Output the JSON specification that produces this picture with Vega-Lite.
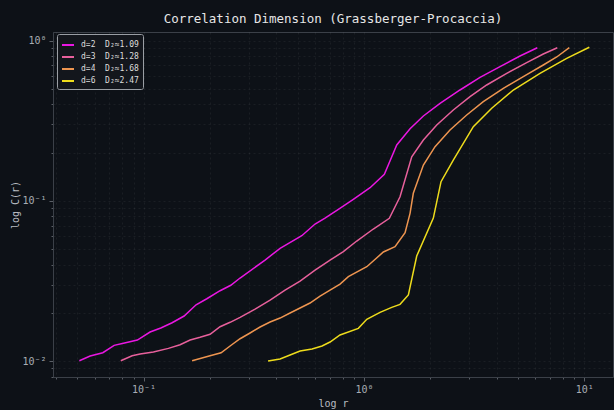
{
  "$schema": "https://vega.github.io/schema/vega-lite/v6.json",
  "width": 560,
  "height": 345,
  "autosize": {"type": "none"},
  "padding": {"left": 53, "top": 32, "right": 1, "bottom": 33},
  "background": "#0d1117",
  "title": {
    "text": "Correlation Dimension (Grassberger-Procaccia)",
    "font": "DejaVu Sans Mono",
    "fontSize": 12.5,
    "fontWeight": "normal",
    "color": "#e6e6e6",
    "anchor": "middle",
    "offset": 7
  },
  "config": {
    "view": {"stroke": "#3b4048", "strokeWidth": 1, "fill": "#0d1117"},
    "font": "DejaVu Sans Mono",
    "axis": {
      "labelFont": "DejaVu Sans Mono",
      "titleFont": "DejaVu Sans Mono",
      "labelColor": "#a8adb4",
      "titleColor": "#b8bcc2",
      "labelFontSize": 10,
      "titleFontSize": 10,
      "titleFontWeight": "normal",
      "domainColor": "#3b4048",
      "tickColor": "#5a5f66",
      "gridColor": "#ffffff",
      "gridOpacity": 0.07,
      "gridDash": [2, 3],
      "gridWidth": 0.8
    }
  },
  "data": {
    "values": [
      {"series": "d=2\u00a0 D₂≈1.09", "r": 0.0511, "C": 0.01005},
      {"series": "d=2\u00a0 D₂≈1.09", "r": 0.0572, "C": 0.01074},
      {"series": "d=2\u00a0 D₂≈1.09", "r": 0.0653, "C": 0.01127},
      {"series": "d=2\u00a0 D₂≈1.09", "r": 0.0735, "C": 0.01253},
      {"series": "d=2\u00a0 D₂≈1.09", "r": 0.0810, "C": 0.0129},
      {"series": "d=2\u00a0 D₂≈1.09", "r": 0.0937, "C": 0.01352},
      {"series": "d=2\u00a0 D₂≈1.09", "r": 0.1070, "C": 0.01518},
      {"series": "d=2\u00a0 D₂≈1.09", "r": 0.1197, "C": 0.01607},
      {"series": "d=2\u00a0 D₂≈1.09", "r": 0.1347, "C": 0.01734},
      {"series": "d=2\u00a0 D₂≈1.09", "r": 0.1527, "C": 0.0191},
      {"series": "d=2\u00a0 D₂≈1.09", "r": 0.1731, "C": 0.02246},
      {"series": "d=2\u00a0 D₂≈1.09", "r": 0.1936, "C": 0.02449},
      {"series": "d=2\u00a0 D₂≈1.09", "r": 0.2224, "C": 0.02748},
      {"series": "d=2\u00a0 D₂≈1.09", "r": 0.2487, "C": 0.02971},
      {"series": "d=2\u00a0 D₂≈1.09", "r": 0.2741, "C": 0.03298},
      {"series": "d=2\u00a0 D₂≈1.09", "r": 0.3558, "C": 0.04272},
      {"series": "d=2\u00a0 D₂≈1.09", "r": 0.4163, "C": 0.05054},
      {"series": "d=2\u00a0 D₂≈1.09", "r": 0.5222, "C": 0.06059},
      {"series": "d=2\u00a0 D₂≈1.09", "r": 0.6000, "C": 0.07167},
      {"series": "d=2\u00a0 D₂≈1.09", "r": 0.6659, "C": 0.0781},
      {"series": "d=2\u00a0 D₂≈1.09", "r": 0.7655, "C": 0.0886},
      {"series": "d=2\u00a0 D₂≈1.09", "r": 0.8950, "C": 0.1023},
      {"series": "d=2\u00a0 D₂≈1.09", "r": 1.066, "C": 0.1208},
      {"series": "d=2\u00a0 D₂≈1.09", "r": 1.238, "C": 0.1464},
      {"series": "d=2\u00a0 D₂≈1.09", "r": 1.409, "C": 0.2233},
      {"series": "d=2\u00a0 D₂≈1.09", "r": 1.619, "C": 0.2822},
      {"series": "d=2\u00a0 D₂≈1.09", "r": 1.861, "C": 0.3387},
      {"series": "d=2\u00a0 D₂≈1.09", "r": 2.215, "C": 0.4065},
      {"series": "d=2\u00a0 D₂≈1.09", "r": 2.729, "C": 0.4922},
      {"series": "d=2\u00a0 D₂≈1.09", "r": 3.364, "C": 0.5907},
      {"series": "d=2\u00a0 D₂≈1.09", "r": 4.146, "C": 0.688},
      {"series": "d=2\u00a0 D₂≈1.09", "r": 5.108, "C": 0.8026},
      {"series": "d=2\u00a0 D₂≈1.09", "r": 6.122, "C": 0.904},

      {"series": "d=3\u00a0 D₂≈1.28", "r": 0.0788, "C": 0.01005},
      {"series": "d=3\u00a0 D₂≈1.28", "r": 0.0887, "C": 0.01079},
      {"series": "d=3\u00a0 D₂≈1.28", "r": 0.0964, "C": 0.01106},
      {"series": "d=3\u00a0 D₂≈1.28", "r": 0.1108, "C": 0.01138},
      {"series": "d=3\u00a0 D₂≈1.28", "r": 0.1296, "C": 0.0120},
      {"series": "d=3\u00a0 D₂≈1.28", "r": 0.1464, "C": 0.01264},
      {"series": "d=3\u00a0 D₂≈1.28", "r": 0.1626, "C": 0.01352},
      {"series": "d=3\u00a0 D₂≈1.28", "r": 0.1805, "C": 0.01406},
      {"series": "d=3\u00a0 D₂≈1.28", "r": 0.2003, "C": 0.01468},
      {"series": "d=3\u00a0 D₂≈1.28", "r": 0.2224, "C": 0.01638},
      {"series": "d=3\u00a0 D₂≈1.28", "r": 0.2469, "C": 0.01745},
      {"series": "d=3\u00a0 D₂≈1.28", "r": 0.2741, "C": 0.01875},
      {"series": "d=3\u00a0 D₂≈1.28", "r": 0.3206, "C": 0.02112},
      {"series": "d=3\u00a0 D₂≈1.28", "r": 0.3750, "C": 0.02404},
      {"series": "d=3\u00a0 D₂≈1.28", "r": 0.4385, "C": 0.02775},
      {"series": "d=3\u00a0 D₂≈1.28", "r": 0.5130, "C": 0.03159},
      {"series": "d=3\u00a0 D₂≈1.28", "r": 0.6000, "C": 0.0370},
      {"series": "d=3\u00a0 D₂≈1.28", "r": 0.7018, "C": 0.04272},
      {"series": "d=3\u00a0 D₂≈1.28", "r": 0.8064, "C": 0.04815},
      {"series": "d=3\u00a0 D₂≈1.28", "r": 0.9275, "C": 0.05614},
      {"series": "d=3\u00a0 D₂≈1.28", "r": 1.103, "C": 0.06672},
      {"series": "d=3\u00a0 D₂≈1.28", "r": 1.304, "C": 0.0778},
      {"series": "d=3\u00a0 D₂≈1.28", "r": 1.458, "C": 0.1061},
      {"series": "d=3\u00a0 D₂≈1.28", "r": 1.648, "C": 0.1886},
      {"series": "d=3\u00a0 D₂≈1.28", "r": 1.861, "C": 0.2399},
      {"series": "d=3\u00a0 D₂≈1.28", "r": 2.140, "C": 0.2976},
      {"series": "d=3\u00a0 D₂≈1.28", "r": 2.544, "C": 0.3693},
      {"series": "d=3\u00a0 D₂≈1.28", "r": 3.030, "C": 0.4471},
      {"series": "d=3\u00a0 D₂≈1.28", "r": 3.607, "C": 0.529},
      {"series": "d=3\u00a0 D₂≈1.28", "r": 4.446, "C": 0.6258},
      {"series": "d=3\u00a0 D₂≈1.28", "r": 5.479, "C": 0.729},
      {"series": "d=3\u00a0 D₂≈1.28", "r": 6.516, "C": 0.826},
      {"series": "d=3\u00a0 D₂≈1.28", "r": 7.544, "C": 0.904},

      {"series": "d=4\u00a0 D₂≈1.68", "r": 0.1660, "C": 0.01005},
      {"series": "d=4\u00a0 D₂≈1.68", "r": 0.2003, "C": 0.01079},
      {"series": "d=4\u00a0 D₂≈1.68", "r": 0.2247, "C": 0.01126},
      {"series": "d=4\u00a0 D₂≈1.68", "r": 0.2513, "C": 0.01264},
      {"series": "d=4\u00a0 D₂≈1.68", "r": 0.2741, "C": 0.01378},
      {"series": "d=4\u00a0 D₂≈1.68", "r": 0.3042, "C": 0.01496},
      {"series": "d=4\u00a0 D₂≈1.68", "r": 0.3378, "C": 0.01631},
      {"series": "d=4\u00a0 D₂≈1.68", "r": 0.3750, "C": 0.01752},
      {"series": "d=4\u00a0 D₂≈1.68", "r": 0.4163, "C": 0.01855},
      {"series": "d=4\u00a0 D₂≈1.68", "r": 0.4621, "C": 0.01994},
      {"series": "d=4\u00a0 D₂≈1.68", "r": 0.5130, "C": 0.02143},
      {"series": "d=4\u00a0 D₂≈1.68", "r": 0.5693, "C": 0.02303},
      {"series": "d=4\u00a0 D₂≈1.68", "r": 0.6322, "C": 0.02546},
      {"series": "d=4\u00a0 D₂≈1.68", "r": 0.7018, "C": 0.02775},
      {"series": "d=4\u00a0 D₂≈1.68", "r": 0.7790, "C": 0.03025},
      {"series": "d=4\u00a0 D₂≈1.68", "r": 0.8497, "C": 0.03361},
      {"series": "d=4\u00a0 D₂≈1.68", "r": 1.030, "C": 0.0388},
      {"series": "d=4\u00a0 D₂≈1.68", "r": 1.225, "C": 0.04794},
      {"series": "d=4\u00a0 D₂≈1.68", "r": 1.384, "C": 0.05171},
      {"series": "d=4\u00a0 D₂≈1.68", "r": 1.537, "C": 0.06324},
      {"series": "d=4\u00a0 D₂≈1.68", "r": 1.619, "C": 0.08361},
      {"series": "d=4\u00a0 D₂≈1.68", "r": 1.675, "C": 0.1115},
      {"series": "d=4\u00a0 D₂≈1.68", "r": 1.861, "C": 0.1674},
      {"series": "d=4\u00a0 D₂≈1.68", "r": 2.102, "C": 0.2179},
      {"series": "d=4\u00a0 D₂≈1.68", "r": 2.458, "C": 0.2769},
      {"series": "d=4\u00a0 D₂≈1.68", "r": 2.927, "C": 0.3437},
      {"series": "d=4\u00a0 D₂≈1.68", "r": 3.481, "C": 0.416},
      {"series": "d=4\u00a0 D₂≈1.68", "r": 4.291, "C": 0.5044},
      {"series": "d=4\u00a0 D₂≈1.68", "r": 5.287, "C": 0.5959},
      {"series": "d=4\u00a0 D₂≈1.68", "r": 6.516, "C": 0.7051},
      {"series": "d=4\u00a0 D₂≈1.68", "r": 7.497, "C": 0.791},
      {"series": "d=4\u00a0 D₂≈1.68", "r": 8.551, "C": 0.904},

      {"series": "d=6\u00a0 D₂≈2.47", "r": 0.3672, "C": 0.0100},
      {"series": "d=6\u00a0 D₂≈2.47", "r": 0.4163, "C": 0.01029},
      {"series": "d=6\u00a0 D₂≈2.47", "r": 0.4621, "C": 0.0109},
      {"series": "d=6\u00a0 D₂≈2.47", "r": 0.5130, "C": 0.01155},
      {"series": "d=6\u00a0 D₂≈2.47", "r": 0.5817, "C": 0.01189},
      {"series": "d=6\u00a0 D₂≈2.47", "r": 0.6455, "C": 0.01241},
      {"series": "d=6\u00a0 D₂≈2.47", "r": 0.7018, "C": 0.01314},
      {"series": "d=6\u00a0 D₂≈2.47", "r": 0.7790, "C": 0.01454},
      {"series": "d=6\u00a0 D₂≈2.47", "r": 0.9432, "C": 0.016},
      {"series": "d=6\u00a0 D₂≈2.47", "r": 1.030, "C": 0.01821},
      {"series": "d=6\u00a0 D₂≈2.47", "r": 1.183, "C": 0.02014},
      {"series": "d=6\u00a0 D₂≈2.47", "r": 1.337, "C": 0.02164},
      {"series": "d=6\u00a0 D₂≈2.47", "r": 1.458, "C": 0.02259},
      {"series": "d=6\u00a0 D₂≈2.47", "r": 1.591, "C": 0.02584},
      {"series": "d=6\u00a0 D₂≈2.47", "r": 1.736, "C": 0.04524},
      {"series": "d=6\u00a0 D₂≈2.47", "r": 2.065, "C": 0.0781},
      {"series": "d=6\u00a0 D₂≈2.47", "r": 2.238, "C": 0.1317},
      {"series": "d=6\u00a0 D₂≈2.47", "r": 2.544, "C": 0.1799},
      {"series": "d=6\u00a0 D₂≈2.47", "r": 3.136, "C": 0.2904},
      {"series": "d=6\u00a0 D₂≈2.47", "r": 3.801, "C": 0.3784},
      {"series": "d=6\u00a0 D₂≈2.47", "r": 4.764, "C": 0.4922},
      {"series": "d=6\u00a0 D₂≈2.47", "r": 6.295, "C": 0.6258},
      {"series": "d=6\u00a0 D₂≈2.47", "r": 8.321, "C": 0.7764},
      {"series": "d=6\u00a0 D₂≈2.47", "r": 10.54, "C": 0.9095}
    ]
  },
  "mark": {"type": "line", "strokeWidth": 1.5, "clip": true},
  "encoding": {
    "x": {
      "field": "r",
      "type": "quantitative",
      "scale": {"type": "log", "domain": [0.0388, 13.5], "nice": false},
      "axis": {
        "title": "log r",
        "titlePadding": 4,
        "values": [0.04, 0.05, 0.06, 0.07, 0.08, 0.09, 0.1, 0.2, 0.3, 0.4, 0.5, 0.6, 0.7, 0.8, 0.9, 1, 2, 3, 4, 5, 6, 7, 8, 9, 10],
        "labelExpr": "datum.value == 0.1 ? '10⁻¹' : datum.value == 1 ? '10⁰' : datum.value == 10 ? '10¹' : ''",
        "tickSize": {"condition": {"test": "datum.value == 0.1 || datum.value == 1 || datum.value == 10", "value": 4}, "value": 2},
        "labelPadding": 3,
        "labelFlush": false,
        "labelOverlap": false
      }
    },
    "y": {
      "field": "C",
      "type": "quantitative",
      "scale": {"type": "log", "domain": [0.00795, 1.133], "nice": false},
      "axis": {
        "title": "log C(r)",
        "titlePadding": 1,
        "values": [0.008, 0.009, 0.01, 0.02, 0.03, 0.04, 0.05, 0.06, 0.07, 0.08, 0.09, 0.1, 0.2, 0.3, 0.4, 0.5, 0.6, 0.7, 0.8, 0.9, 1],
        "labelExpr": "datum.value == 0.01 ? '10⁻²' : datum.value == 0.1 ? '10⁻¹' : datum.value == 1 ? '10⁰' : ''",
        "tickSize": {"condition": {"test": "datum.value == 0.01 || datum.value == 0.1 || datum.value == 1", "value": 4}, "value": 2},
        "labelPadding": 3,
        "labelFlush": false,
        "labelOverlap": false
      }
    },
    "color": {
      "field": "series",
      "type": "nominal",
      "scale": {
        "domain": ["d=2\u00a0 D₂≈1.09", "d=3\u00a0 D₂≈1.28", "d=4\u00a0 D₂≈1.68", "d=6\u00a0 D₂≈2.47"],
        "range": ["#ea17e2", "#e8609c", "#ee9550", "#eedc1c"]
      },
      "legend": {
        "title": null,
        "orient": "none",
        "legendX": 4,
        "legendY": 2,
        "symbolType": "stroke",
        "symbolSize": 144,
        "symbolStrokeWidth": 2,
        "labelFont": "DejaVu Sans Mono",
        "labelFontSize": 8,
        "labelColor": "#dddddd",
        "fillColor": "#13161c",
        "strokeColor": "#9a9ea4",
        "cornerRadius": 2,
        "padding": 4,
        "rowPadding": 1,
        "labelOffset": 6,
        "symbolOffset": 0
      }
    }
  }
}
